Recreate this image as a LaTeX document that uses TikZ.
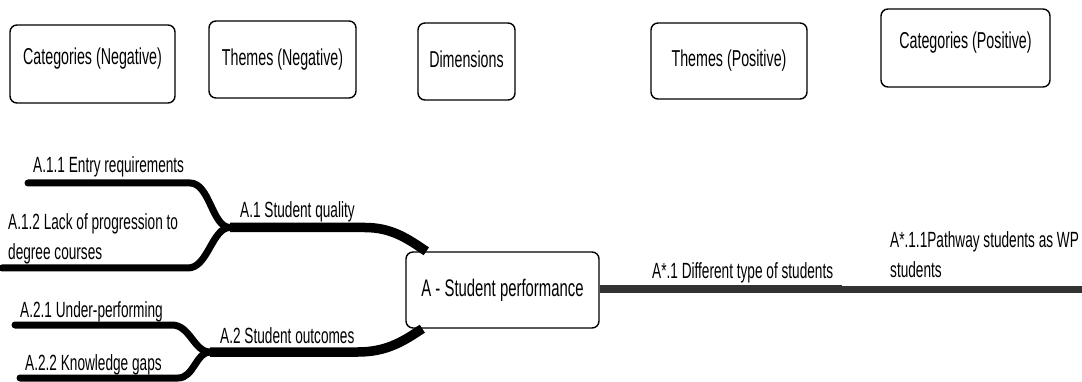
\documentclass[tikz,border=0pt]{standalone}
\usepackage{fontspec}
\setmainfont{Liberation Sans}[FakeStretch=0.62]
\definecolor{darkline}{HTML}{333333}
\begin{document}
\begin{tikzpicture}[x=1pt,y=-1pt,
  header/.style={draw=black, line width=1.4pt, rounded corners=7pt, fill=white,
    font=\fontsize{23}{27}\selectfont, inner sep=0pt, text height=17pt, text depth=5pt},
  raised/.style={text depth=15pt},
  centre/.style={header, font=\fontsize{24}{28}\selectfont, text height=17.5pt, text depth=5pt},
  lbl/.style={inner sep=0pt, anchor=base west, font=\fontsize{22}{29}\selectfont, align=left},
  branch/.style={line width=7pt, line cap=round, black},
  trunk/.style={line width=9.5pt, black},
  posline/.style={color=darkline}]
\useasboundingbox (0,0) rectangle (1082,382);

% column headers
\node[header, raised, minimum width=165pt, minimum height=78pt] (catneg) at (92.5,64) {Categories (Negative)};
\node[header, minimum width=147pt, minimum height=77pt] (themneg) at (282.5,59.5) {Themes (Negative)};
\node[header, minimum width=97pt, minimum height=77pt] (dims) at (466.5,61.5) {Dimensions};
\node[header, minimum width=156pt, minimum height=76pt] (thempos) at (729,61) {Themes (Positive)};
\node[header, raised, minimum width=169pt, minimum height=78pt] (catpos) at (965.5,48) {Categories (Positive)};

% central dimension
\node[centre, minimum width=193pt, minimum height=76pt] (dimA) at (502.5,290) {A - Student performance};

% branch points
\coordinate (j1) at (230,227.5);
\coordinate (j2) at (210,352);
\coordinate (a11) at (28,183);
\coordinate (a12) at (2,268);
\coordinate (a21) at (15,325);
\coordinate (a22) at (20,378);
\coordinate (split) at (842,289);
\coordinate (rend) at (1090,289);

% negative side: categories into themes
\draw[branch] (a11) -- (190,183) .. controls (210,183) and (212,227.5) .. (j1);
\draw[branch] (a12) -- (188,268) .. controls (208,268) and (212,227.5) .. (j1);
\draw[branch] (a21) -- (172,325) .. controls (190,325) and (194,352) .. (j2);
\draw[branch] (a22) -- (178,378) .. controls (194,378) and (196,352) .. (j2);

% negative side: themes into the dimension
\draw[trunk] (j1) -- (365,227.5) .. controls (392,227.5) and (408,239) .. ([xshift=21pt]dimA.north west);
\draw[trunk] (j2) -- (358,352) .. controls (388,352) and (405,340) .. ([xshift=17pt]dimA.south west);

% positive side
\draw[posline, line width=8.5pt] (dimA.east |- split) -- (split);
\draw[posline, line width=7pt] (split) -- (rend);

% labels (multi-line labels are placed by their last baseline)
\node[lbl] (l11) at (33,173) {A.1.1 Entry requirements};
\node[lbl] (l12) at (8,259) {A.1.2 Lack of progression to\\degree courses};
\node[lbl] (l1) at (240,218) {A.1 Student quality};
\node[lbl] (l21) at (20,317) {A.2.1 Under-performing};
\node[lbl] (l22) at (25,370) {A.2.2 Knowledge gaps};
\node[lbl] (l2) at (220,343) {A.2 Student outcomes};
\node[lbl] (lp1) at (652,278) {A*.1 Different type of students};
\node[lbl] (lp11) at (890,277) {A*.1.1Pathway students as WP\\students};
\end{tikzpicture}
\end{document}
